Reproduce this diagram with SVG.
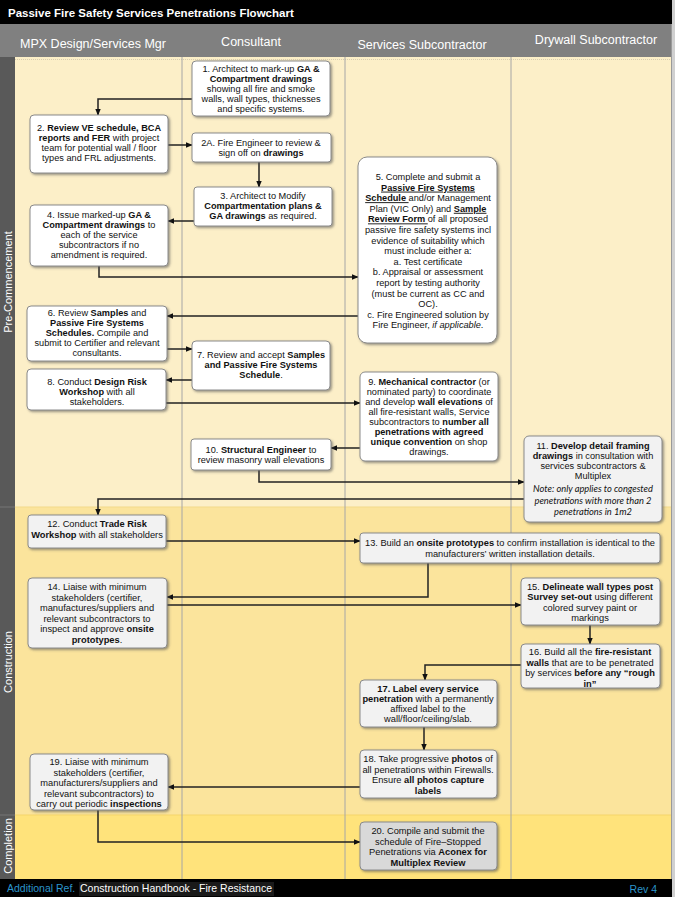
<svg xmlns="http://www.w3.org/2000/svg" width="675" height="897" viewBox="0 0 675 897">
<defs>
<style>
.t{font-family:"Liberation Sans",Arial,sans-serif;font-size:9.2px;fill:#111;text-anchor:middle}
.n{font-family:"Liberation Sans Narrow","Liberation Sans",Arial,sans-serif;font-size:9.3px;fill:#111;text-anchor:middle}
.b{font-weight:bold}
.u{text-decoration:underline}
.i{font-style:italic}
.note{font-family:Lato,"Open Sans",sans-serif;font-style:italic;font-size:9.3px;fill:#111;text-anchor:middle}
.box{fill:#fff;stroke:#8a8a8a;stroke-width:1;filter:url(#sh)}
.gbox{fill:#f2f2f2;stroke:#8a8a8a;stroke-width:1;filter:url(#sh)}
.dbox{fill:#d9d9d9;stroke:#8a8a8a;stroke-width:1;filter:url(#sh)}
.hdr{font-family:"Liberation Sans Narrow","Liberation Sans",Arial,sans-serif;font-size:12.5px;fill:#fff;text-anchor:middle}
.ph{font-family:"Liberation Sans",Arial,sans-serif;font-size:11px;fill:#fff;text-anchor:middle}
.lane{stroke:#a6a6a6;stroke-width:1}
.c{fill:none;stroke:#222;stroke-width:1.5;marker-end:url(#ah)}
</style>
<filter id="sh" x="-10%" y="-10%" width="130%" height="130%">
<feDropShadow dx="1.5" dy="1.5" stdDeviation="0.9" flood-color="#555" flood-opacity="0.6"/>
</filter>
<marker id="ah" viewBox="0 0 10 10" refX="9" refY="5" markerWidth="7" markerHeight="7" markerUnits="userSpaceOnUse" orient="auto">
<path d="M0,1 L10,5 L0,9 z" fill="#111"/>
</marker>
</defs>

<!-- background & frame -->
<rect x="0" y="0" width="675" height="897" fill="#d0d0d0"/>
<rect x="0" y="0" width="672" height="24" fill="#000"/>
<text x="8" y="17" font-family="Liberation Sans,Arial,sans-serif" font-size="11.5" font-weight="bold" fill="#fff">Passive Fire Safety Services Penetrations Flowchart</text>
<rect x="0" y="24" width="672" height="33" fill="#808080"/>
<text class="hdr" x="93" y="48">MPX Design/Services Mgr</text>
<text class="hdr" x="251" y="46">Consultant</text>
<text class="hdr" x="422" y="49">Services Subcontractor</text>
<text class="hdr" x="596" y="44">Drywall Subcontractor</text>

<!-- phases -->
<rect x="15" y="57" width="657" height="450" fill="#fcefc8"/>
<rect x="15" y="507" width="657" height="308" fill="#fbe49c"/>
<rect x="15" y="815" width="657" height="64" fill="#ffe37b"/>
<line x1="15" y1="507" x2="672" y2="507" stroke="#f3d98a" stroke-width="1"/>
<line x1="15" y1="815" x2="672" y2="815" stroke="#f5d56a" stroke-width="1"/>
<line x1="15" y1="59.5" x2="672" y2="59.5" stroke="#d8cdb0" stroke-width="1" stroke-dasharray="1,1"/>
<rect x="0" y="57" width="15" height="822" fill="#595959"/>
<line x1="0" y1="507" x2="15" y2="507" stroke="#777" stroke-width="1"/>
<line x1="0" y1="815" x2="15" y2="815" stroke="#777" stroke-width="1"/>
<text class="ph" transform="translate(11.5,282) rotate(-90)">Pre-Commencement</text>
<text class="ph" transform="translate(11.5,662) rotate(-90)">Construction</text>
<text class="ph" transform="translate(11.5,846) rotate(-90)">Completion</text>

<!-- lanes -->
<g id="lanes">
<line class="lane" x1="182" y1="57" x2="182" y2="879"/>
<line class="lane" x1="345" y1="57" x2="345" y2="879"/>
<line class="lane" x1="511" y1="57" x2="511" y2="879"/>
<line x1="671.5" y1="24" x2="671.5" y2="879" stroke="#9a9a9a" stroke-width="1"/>
</g>

<!-- footer -->
<rect x="0" y="879" width="672" height="18" fill="#000"/>
<text x="7" y="892" font-family="Liberation Sans Narrow,Liberation Sans,Arial,sans-serif" font-size="10.5" fill="#2b95cc">Additional Ref.</text>
<rect x="79" y="882" width="195" height="14" fill="#1a1a1a"/>
<text x="80" y="892" font-family="Liberation Sans Narrow,Liberation Sans,Arial,sans-serif" font-size="10.5" fill="#fff">Construction Handbook - Fire Resistance</text>
<text x="657" y="893" font-family="Liberation Sans Narrow,Liberation Sans,Arial,sans-serif" font-size="10.5" fill="#2b95cc" text-anchor="end">Rev 4</text>

<!-- connectors -->
<g id="connectors">
<polyline class="c" points="192,99 98,99 98,115"/>
<polyline class="c" points="168,145 192,145"/>
<polyline class="c" points="259,162 259,187"/>
<polyline class="c" points="194,221 168,221"/>
<polyline class="c" points="99,266 99,277 358,277"/>
<polyline class="c" points="358,316 167,316"/>
<polyline class="c" points="167,349 192,349"/>
<polyline class="c" points="192,380 166,380"/>
<polyline class="c" points="166,403 360,403"/>
<polyline class="c" points="360,448 331,448"/>
<polyline class="c" points="259,470 259,482 524,482"/>
<polyline class="c" points="524,499 98,499 98,515"/>
<polyline class="c" points="166,541 360,541"/>
<polyline class="c" points="428,563 428,597 167,597"/>
<polyline class="c" points="167,605 521,605"/>
<polyline class="c" points="590,625 590,644"/>
<polyline class="c" points="521,665 425,665 425,680"/>
<polyline class="c" points="424,727 424,750"/>
<polyline class="c" points="360,787 168,787"/>
<polyline class="c" points="98,810 98,842 360,842"/>
</g>

<!-- nodes -->
<g id="n1">
<rect class="box" x="192" y="61" width="138" height="55" rx="4"/>
<text class="t" x="261" y="72">1. Architect to mark-up <tspan class="b">GA &amp;</tspan></text>
<text class="t b" x="261" y="82">Compartment drawings</text>
<text class="t" x="261" y="92">showing all fire and smoke</text>
<text class="t" x="261" y="102">walls, wall types, thicknesses</text>
<text class="t" x="261" y="112">and specific systems.</text>
</g>
<g id="n2">
<rect class="box" x="30" y="115" width="138" height="58" rx="4"/>
<text class="t" x="99" y="131">2. <tspan class="b">Review VE schedule, BCA</tspan></text>
<text class="t" x="99" y="141"><tspan class="b">reports and FER</tspan> with project</text>
<text class="t" x="99" y="151">team for potential wall / floor</text>
<text class="t" x="99" y="161">types and FRL adjustments.</text>
</g>
<g id="n2a">
<rect class="box" x="192" y="133" width="139" height="29" rx="3"/>
<text class="t" x="261" y="146">2A. Fire Engineer to review &amp;</text>
<text class="t" x="261" y="156">sign off on <tspan class="b">drawings</tspan></text>
</g>
<g id="n3">
<rect class="box" x="194" y="187" width="138" height="39" rx="3"/>
<text class="t" x="263" y="199">3. Architect to Modify</text>
<text class="t b" x="263" y="209">Compartmentation plans &amp;</text>
<text class="t" x="263" y="219"><tspan class="b">GA drawings</tspan> as required.</text>
</g>
<g id="n4">
<rect class="box" x="30" y="205" width="138" height="61" rx="4"/>
<text class="t" x="99" y="218">4. Issue marked-up  <tspan class="b">GA &amp;</tspan></text>
<text class="t" x="99" y="228"><tspan class="b">Compartment drawings</tspan> to</text>
<text class="t" x="99" y="238">each of the service</text>
<text class="t" x="99" y="248">subcontractors if no</text>
<text class="t" x="99" y="258">amendment is required.</text>
</g>
<g id="n5">
<rect class="box" x="358" y="157" width="139" height="186" rx="9"/>
<text class="t" x="428" y="180">5. Complete and submit a</text>
<text class="t b u" x="428" y="190.6">Passive Fire Systems</text>
<text class="t" x="428" y="201.2"><tspan class="b u">Schedule </tspan>and/or Management</text>
<text class="t" x="428" y="211.8">Plan (VIC Only) and <tspan class="b u">Sample</tspan></text>
<text class="t" x="428" y="222.4"><tspan class="b u">Review Form </tspan>of all proposed</text>
<text class="t" x="428" y="233">passive fire safety systems incl</text>
<text class="t" x="428" y="243.6">evidence of suitability which</text>
<text class="t" x="428" y="254.2">must include either a:</text>
<text class="t" x="428" y="264.8">a. Test certificate</text>
<text class="t" x="428" y="275.4">b. Appraisal or assessment</text>
<text class="t" x="428" y="286">report by testing authority</text>
<text class="t" x="428" y="296.6">(must be current as CC and</text>
<text class="t" x="428" y="307.2">OC).</text>
<text class="t" x="428" y="317.8">c. Fire Engineered solution by</text>
<text class="t" x="428" y="328.4">Fire Engineer, <tspan class="i">if applicable</tspan>.</text>
</g>
<g id="n6">
<rect class="box" x="27" y="306" width="140" height="55" rx="4"/>
<text class="t" x="97" y="316">6. Review <tspan class="b">Samples</tspan> and</text>
<text class="t b" x="97" y="326">Passive Fire Systems</text>
<text class="t" x="97" y="336"><tspan class="b">Schedules.</tspan> Compile and</text>
<text class="t" x="97" y="346">submit to Certifier and relevant</text>
<text class="t" x="97" y="356">consultants.</text>
</g>
<g id="n7">
<rect class="box" x="192" y="341" width="138" height="49" rx="4"/>
<text class="t" x="261" y="358">7. Review and accept <tspan class="b">Samples</tspan></text>
<text class="t b" x="261" y="368">and Passive Fire Systems</text>
<text class="t" x="261" y="378"><tspan class="b">Schedule</tspan>.</text>
</g>
<g id="n8">
<rect class="box" x="27" y="369" width="139" height="41" rx="4"/>
<text class="t" x="97" y="385">8. Conduct <tspan class="b">Design Risk</tspan></text>
<text class="t" x="97" y="395"><tspan class="b">Workshop</tspan> with all</text>
<text class="t" x="97" y="405">stakeholders.</text>
</g>
<g id="n9">
<rect class="box" x="360" y="372" width="138" height="89" rx="5"/>
<text class="t" x="429" y="385">9. <tspan class="b">Mechanical contractor</tspan> (or</text>
<text class="t" x="429" y="395">nominated party) to coordinate</text>
<text class="t" x="429" y="405">and develop <tspan class="b">wall elevations</tspan> of</text>
<text class="t" x="429" y="415">all fire-resistant walls,  Service</text>
<text class="t" x="429" y="425">subcontractors to <tspan class="b">number all</tspan></text>
<text class="t b" x="429" y="435">penetrations with agreed</text>
<text class="t" x="429" y="445"><tspan class="b">unique convention</tspan> on shop</text>
<text class="t" x="429" y="455">drawings.</text>
</g>
<g id="n10">
<rect class="box" x="191" y="439" width="140" height="31" rx="3"/>
<text class="t" x="261" y="453">10. <tspan class="b">Structural Engineer</tspan> to</text>
<text class="t" x="261" y="463">review masonry wall elevations</text>
</g>
<g id="n11">
<rect class="gbox" x="524" y="436" width="138" height="86" rx="5"/>
<text class="t" x="593" y="449">11. <tspan class="b">Develop detail framing</tspan></text>
<text class="t" x="593" y="459"><tspan class="b">drawings</tspan> in consultation with</text>
<text class="t" x="593" y="469">services subcontractors &amp;</text>
<text class="t" x="593" y="479">Multiplex</text>
<text class="note" x="593" y="491.5">Note: only applies to congested</text>
<text class="note" x="593" y="503.5">penetrations with more than 2</text>
<text class="note" x="593" y="514.5">penetrations in 1m2</text>
</g>
<g id="n12">
<rect class="gbox" x="28" y="515" width="138" height="33" rx="3"/>
<text class="n" x="97" y="527">12. Conduct <tspan class="b">Trade Risk</tspan></text>
<text class="n" x="97" y="538"><tspan class="b">Workshop</tspan> with all stakeholders</text>
</g>
<g id="n13">
<rect class="gbox" x="360" y="533" width="300" height="30" rx="3"/>
<text class="n" x="510" y="546" textLength="290" lengthAdjust="spacingAndGlyphs">13. Build an <tspan class="b">onsite prototypes</tspan> to confirm installation is identical to the</text>
<text class="n" x="510" y="557">manufacturers’ written installation details.</text>
</g>
<g id="n14">
<rect class="gbox" x="28" y="578" width="139" height="70" rx="4"/>
<text class="n" x="97" y="590">14. Liaise with minimum</text>
<text class="n" x="97" y="600.5">stakeholders (certifier,</text>
<text class="n" x="97" y="611">manufactures/suppliers and</text>
<text class="n" x="97" y="621.5">relevant subcontractors to</text>
<text class="n" x="97" y="632">inspect and approve <tspan class="b">onsite</tspan></text>
<text class="n" x="97" y="642.5"><tspan class="b">prototypes</tspan>.</text>
</g>
<g id="n15">
<rect class="gbox" x="521" y="578" width="139" height="47" rx="4"/>
<text class="n" x="590" y="589.5">15. <tspan class="b">Delineate wall types post</tspan></text>
<text class="n" x="590" y="600"><tspan class="b">Survey set-out</tspan> using different</text>
<text class="n" x="590" y="610.5">colored survey paint or</text>
<text class="n" x="590" y="621">markings</text>
</g>
<g id="n16">
<rect class="gbox" x="521" y="644" width="139" height="44" rx="4"/>
<text class="n" x="590" y="655">16. Build all the <tspan class="b">fire-resistant</tspan></text>
<text class="n" x="590" y="665.5"><tspan class="b">walls</tspan> that are to be penetrated</text>
<text class="n" x="590" y="676">by services <tspan class="b">before any “rough</tspan></text>
<text class="n b" x="590" y="686.5">in”</text>
</g>
<g id="n17">
<rect class="gbox" x="360" y="680" width="137" height="47" rx="4"/>
<text class="n b" x="428" y="691.5">17. Label every service</text>
<text class="n" x="428" y="701.5"><tspan class="b">penetration</tspan> with a permanently</text>
<text class="n" x="428" y="711.5">affixed label to the</text>
<text class="n" x="428" y="721.5">wall/floor/ceiling/slab.</text>
</g>
<g id="n18">
<rect class="gbox" x="360" y="750" width="137" height="48" rx="4"/>
<text class="n" x="428" y="762">18. Take progressive <tspan class="b">photos</tspan> of</text>
<text class="n" x="428" y="772.5">all penetrations within Firewalls.</text>
<text class="n" x="428" y="783">Ensure <tspan class="b">all photos capture</tspan></text>
<text class="n b" x="428" y="793.5">labels</text>
</g>
<g id="n19">
<rect class="gbox" x="30" y="754" width="138" height="56" rx="4"/>
<text class="n" x="99" y="765">19.  Liaise with minimum</text>
<text class="n" x="99" y="775.5">stakeholders (certifier,</text>
<text class="n" x="99" y="786">manufacturers/suppliers and</text>
<text class="n" x="99" y="796.5">relevant subcontractors) to</text>
<text class="n" x="99" y="807">carry out periodic <tspan class="b">inspections</tspan></text>
</g>
<g id="n20">
<rect class="dbox" x="360" y="822" width="137" height="48" rx="4"/>
<text class="n" x="428" y="834">20. Compile and submit the</text>
<text class="n" x="428" y="844.5">schedule of Fire–Stopped</text>
<text class="n" x="428" y="855">Penetrations via <tspan class="b">Aconex for</tspan></text>
<text class="n b" x="428" y="865.5">Multiplex Review</text>
</g>
</svg>
